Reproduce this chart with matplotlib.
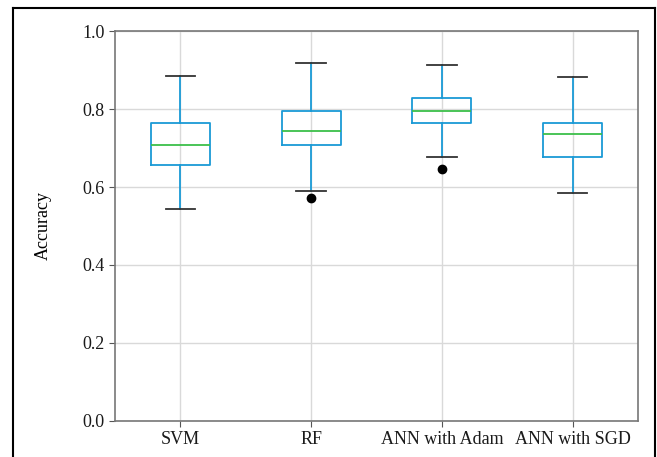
import matplotlib.pyplot as plt
from matplotlib.lines import Line2D

models = ["SVM", "RF", "ANN with Adam", "ANN with SGD"]
lower_whisker = [0.543, 0.589, 0.677, 0.584]
q1 = [0.656, 0.707, 0.765, 0.677]
median = [0.707, 0.744, 0.795, 0.736]
q3 = [0.765, 0.795, 0.829, 0.765]
upper_whisker = [0.884, 0.919, 0.913, 0.883]
outliers = [[], [0.572], [0.647], []]

plt.rcParams['font.family'] = ['Liberation Serif', 'DejaVu Serif']
plt.rcParams['font.size'] = 13

stats = []
for i, name in enumerate(models):
    stats.append(dict(label=name, whislo=lower_whisker[i], q1=q1[i], med=median[i],
                      q3=q3[i], whishi=upper_whisker[i], fliers=outliers[i]))

fig = plt.figure(figsize=(6.57, 4.57), dpi=100)
ax = fig.add_axes([0.175, 0.079, 0.796, 0.853])

blue = "#1a9ad6"
ax.bxp(stats, widths=0.45, patch_artist=False,
       boxprops=dict(color=blue, linewidth=1.3),
       whiskerprops=dict(color=blue, linewidth=1.3),
       capprops=dict(color="#333333", linewidth=1.3),
       medianprops=dict(color="#3cbf4a", linewidth=1.3),
       flierprops=dict(marker="o", markerfacecolor="black", markeredgecolor="black", markersize=6))

ax.set_ylim(0, 1.0)
ax.set_xlim(0.5, 4.5)
ax.set_yticks([0.0, 0.2, 0.4, 0.6, 0.8, 1.0])
ax.grid(True, color="#d9d9d9", linewidth=1)
ax.set_axisbelow(True)
for s in ax.spines.values():
    s.set_color("#777777")
    s.set_linewidth(1.2)
ax.tick_params(colors="#555555", labelcolor="#1a1a1a", length=4)
ax.set_ylabel("Accuracy", labelpad=22)

# frame around the figure
fig.add_artist(Line2D([13/657, 13/657], [0, 1 - 8/457], color="black", lw=1.5, transform=fig.transFigure))
fig.add_artist(Line2D([655/657, 655/657], [0, 1 - 8/457], color="black", lw=1.5, transform=fig.transFigure))
fig.add_artist(Line2D([13/657, 655/657], [1 - 8/457, 1 - 8/457], color="black", lw=1.5, transform=fig.transFigure))

fig.savefig("out.png", dpi=100)
